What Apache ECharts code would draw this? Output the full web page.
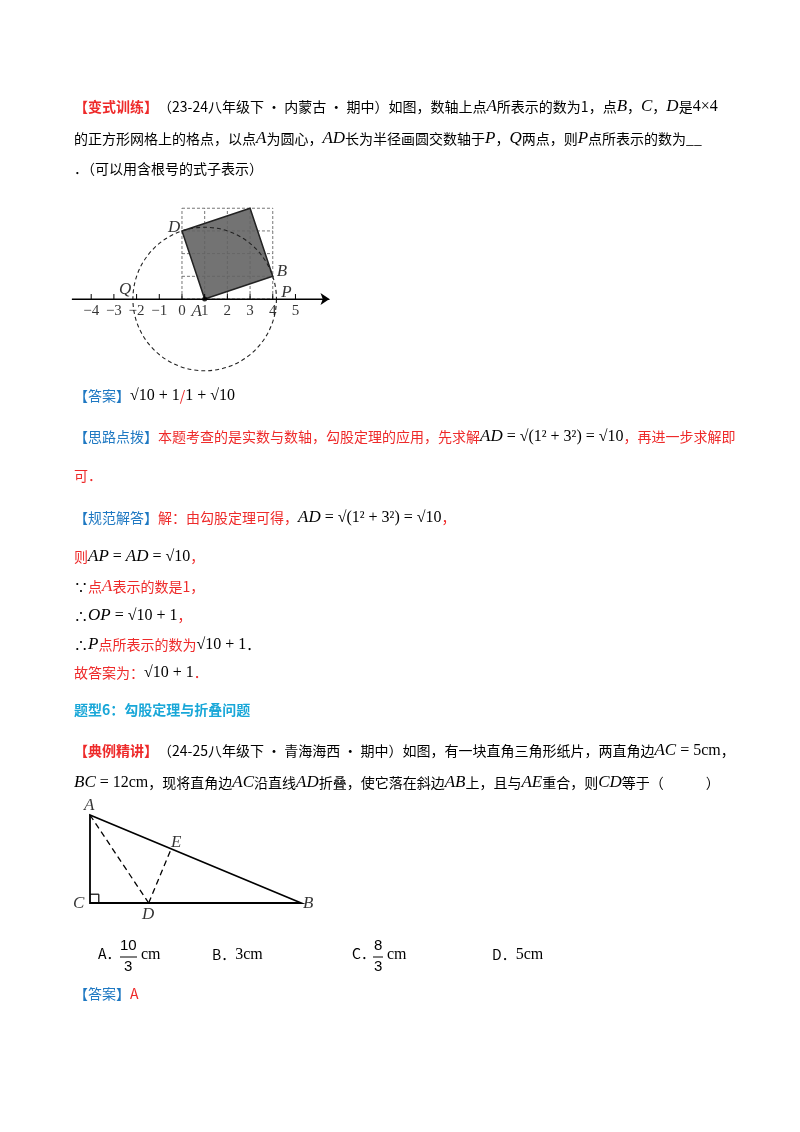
<!DOCTYPE html>
<html>
<head>
<meta charset="utf-8">
<script src="https://cdn.jsdelivr.net/npm/echarts@6/dist/echarts.min.js"></script>
<style>
html,body{margin:0;padding:0;background:#fff}
#page{width:800px;height:1132px}
</style>
</head>
<body>
<div id="page"></div>
<script>
// figure 1: number line, 4x4 grid, square ABCD, circle about A
var tickValues = [-4, -3, -2, -1, 0, 1, 2, 3, 4, 5];
var tickLabels = ['−4', '−3', '−2', '−1', '0', '1', '2', '3', '4', '5'];
var gridLines = [[0,0,4,0],[0,1,4,1],[0,2,4,2],[0,3,4,3],[0,4,4,4],
                 [0,0,0,4],[1,0,1,4],[2,0,2,4],[3,0,3,4],[4,0,4,4]];
var squarePts = [[1,0],[4,1],[3,4],[0,3]];
var circleA = [1, 0, 3.1623];
var fig1Labels = [['D',-0.35,3.13],['C',3.13,4.36],['B',4.4,1.23],['P',4.6,0.3],['Q',-2.5,0.4],['A',0.65,-0.55]];

// figure 2: right triangle, fold along AD
var triPts = [[0,5],[0,0],[12,0]];
var ptD = [3.333, 0];
var ptE = [4.615, 3.077];
var fig2Labels = [['A',-0.05,5.55],['E',4.9,3.45],['C',-0.65,-0.05],['D',3.3,-0.65],['B',12.4,-0.05]];

var RED = '#ee2a2a', BLUE = '#1e78c2', TEAL = '#19a7d8', INK = '#000';
var FONT = '"Noto Sans CJK SC", sans-serif';
var SERIF = '"Liberation Serif", serif';
var myChart = echarts.init(document.getElementById('page'), null, {renderer: 'canvas'});

function line(y, x, rich, text) {
    return {type: 'text', left: x, top: y - 10, style: {text: text, rich: rich, font: '14px ' + FONT, fill: INK}};
}
var rich = {
    r: {fill: RED, fontSize: 14, fontFamily: FONT},
    rb: {fill: RED, fontSize: 14, fontWeight: 'bold', fontFamily: FONT},
    b: {fill: BLUE, fontSize: 14, fontFamily: FONT},
    k: {fill: INK, fontSize: 14, fontFamily: FONT},
    i: {fill: INK, fontSize: 17, fontStyle: 'italic', fontFamily: SERIF},
    ir: {fill: RED, fontSize: 17, fontStyle: 'italic', fontFamily: SERIF},
    m: {fill: INK, fontSize: 16, fontFamily: SERIF},
    t: {fill: TEAL, fontSize: 14, fontWeight: 'bold', fontFamily: FONT}
};
var texts = [
    line(108, 74, rich, '{rb|【变式训练】}{k|（23-24八年级下 • 内蒙古 • 期中）如图，数轴上点}{i|A}{k|所表示的数为1，点}{i|B}{k|，}{i|C}{k|，}{i|D}{k|是}{m|4×4}'),
    line(140, 74, rich, '{k|的正方形网格上的格点，以点}{i|A}{k|为圆心，}{i|AD}{k|长为半径画圆交数轴于}{i|P}{k|，}{i|Q}{k|两点，则}{i|P}{k|点所表示的数为__}'),
    line(172, 74, rich, '{k|．（可以用含根号的式子表示）}'),
    line(398, 74, rich, '{b|【答案】}{m|√10 + 1}{r|/}{m|1 + √10}'),
    line(438, 74, rich, '{b|【思路点拨】}{r|本题考查的是实数与数轴，勾股定理的应用，先求解}{i|AD}{m| = √(1² + 3²) = √10}{r|，再进一步求解即}'),
    line(479, 74, rich, '{r|可．}'),
    line(519, 74, rich, '{b|【规范解答】}{r|解：由勾股定理可得，}{i|AD}{m| = √(1² + 3²) = √10}{r|，}'),
    line(558, 74, rich, '{r|则}{i|AP}{m| = }{i|AD}{m| = √10}{r|，}'),
    line(588, 74, rich, '{k|∵}{r|点}{ir|A}{r|表示的数是1，}'),
    line(617, 74, rich, '{k|∴}{i|OP}{m| = √10 + 1}{r|，}'),
    line(646, 74, rich, '{k|∴}{i|P}{r|点所表示的数为}{m|√10 + 1}{k|．}'),
    line(675, 74, rich, '{r|故答案为：}{m|√10 + 1}{r|．}'),
    line(713, 74, rich, '{t|题型6：勾股定理与折叠问题}'),
    line(752, 74, rich, '{rb|【典例精讲】}{k|（24-25八年级下 • 青海海西 • 期中）如图，有一块直角三角形纸片，两直角边}{i|AC}{m| = 5cm}{k|，}'),
    line(784, 74, rich, '{i|BC}{m| = 12cm}{k|，现将直角边}{i|AC}{k|沿直线}{i|AD}{k|折叠，使它落在斜边}{i|AB}{k|上，且与}{i|AE}{k|重合，则}{i|CD}{k|等于（　　　）}'),
    line(957, 98, rich, '{k|A．}'),
    {type: 'text', left: 120, top: 938, style: {text: '10', font: '15px "Liberation Sans"', fill: INK}},
    {type: 'line', shape: {x1: 120, y1: 957, x2: 137, y2: 957}, style: {stroke: INK, lineWidth: 1}},
    {type: 'text', left: 124, top: 959, style: {text: '3', font: '15px "Liberation Sans"', fill: INK}},
    line(957, 141, rich, '{m|cm}'),
    line(957, 212, rich, '{k|B．}{m|3cm}'),
    line(957, 352, rich, '{k|C．}'),
    {type: 'text', left: 374, top: 938, style: {text: '8', font: '15px "Liberation Sans"', fill: INK}},
    {type: 'line', shape: {x1: 373, y1: 957, x2: 383, y2: 957}, style: {stroke: INK, lineWidth: 1}},
    {type: 'text', left: 374, top: 959, style: {text: '3', font: '15px "Liberation Sans"', fill: INK}},
    line(957, 387, rich, '{m|cm}'),
    line(957, 492, rich, '{k|D．}{m|5cm}'),
    line(997, 74, rich, '{b|【答案】}{r|A}')
];

function segRender(dash, width, color) {
    return function (params, api) {
        var p1 = api.coord([api.value(0), api.value(1)]);
        var p2 = api.coord([api.value(2), api.value(3)]);
        return {type: 'line', shape: {x1: p1[0], y1: p1[1], x2: p2[0], y2: p2[1]},
                style: {stroke: color || INK, lineWidth: width, lineDash: dash}};
    };
}
function labelSeries(idx, pts) {
    return {type: 'scatter', xAxisIndex: idx, yAxisIndex: idx, symbolSize: 0, silent: true,
        data: pts.map(function (p) { return {value: [p[1], p[2]], name: p[0]}; }),
        label: {show: true, position: 'inside', formatter: '{b}', fontSize: 17, fontStyle: 'italic',
                fontFamily: SERIF, color: INK, textBorderWidth: 0}};
}

var option = {
    animation: false,
    graphic: texts,
    grid: [
        {left: 68.5, top: 203.7, width: 261, height: 170.2},
        {left: 72.4, top: 797.4, width: 246.4, height: 123.2}
    ],
    xAxis: [
        {type: 'value', gridIndex: 0, min: -5, max: 6.5, show: false},
        {type: 'value', gridIndex: 1, min: -1, max: 13, show: false}
    ],
    yAxis: [
        {type: 'value', gridIndex: 0, min: -3.3, max: 4.2, show: false},
        {type: 'value', gridIndex: 1, min: -1, max: 6, show: false}
    ],
    series: [
        {type: 'custom', xAxisIndex: 0, yAxisIndex: 0, data: gridLines, renderItem: segRender([3, 2], 0.9, '#666')},
        {type: 'custom', xAxisIndex: 0, yAxisIndex: 0, data: [0], renderItem: function (params, api) {
            return {type: 'polygon', shape: {points: squarePts.map(function (p) { return api.coord(p); })},
                    style: {fill: 'rgba(100,100,100,0.9)', stroke: '#222', lineWidth: 1.5}};
        }},
        {type: 'custom', xAxisIndex: 0, yAxisIndex: 0, data: [circleA], renderItem: function (params, api) {
            var c = api.coord([api.value(0), api.value(1)]);
            var r = api.size([api.value(2), 0])[0];
            return {type: 'circle', shape: {cx: c[0], cy: c[1], r: r},
                    style: {fill: 'none', stroke: '#222', lineWidth: 1.1, lineDash: [4, 3]}};
        }},
        {type: 'line', xAxisIndex: 0, yAxisIndex: 0, data: [[-4.85, 0], [6.4, 0]], symbol: 'none',
         lineStyle: {color: INK, width: 1.2},
         markLine: {silent: true, symbol: ['none', 'arrow'], symbolSize: 9, label: {show: false},
                    lineStyle: {color: INK, width: 1.2, type: 'solid'},
                    data: [[{coord: [-4.85, 0]}, {coord: [6.5, 0]}]]}},
        {type: 'custom', xAxisIndex: 0, yAxisIndex: 0, data: tickValues.map(function (v) { return [v, 0, v, 0.22]; }),
         renderItem: segRender(null, 1)},
        {type: 'scatter', xAxisIndex: 0, yAxisIndex: 0, symbolSize: 0, silent: true,
         data: tickValues.map(function (v, i) { return {value: [v, -0.55], name: tickLabels[i]}; }),
         label: {show: true, position: 'inside', formatter: '{b}', fontSize: 15,
                 fontFamily: SERIF, color: INK, textBorderWidth: 0}},
        {type: 'scatter', xAxisIndex: 0, yAxisIndex: 0, symbolSize: 5, itemStyle: {color: INK}, data: [[1, 0]]},
        labelSeries(0, fig1Labels),

        {type: 'custom', xAxisIndex: 1, yAxisIndex: 1, data: [0], renderItem: function (params, api) {
            return {type: 'polygon', shape: {points: triPts.map(function (p) { return api.coord(p); })},
                    style: {fill: 'none', stroke: INK, lineWidth: 1.8}};
        }},
        {type: 'custom', xAxisIndex: 1, yAxisIndex: 1, data: [[0, 0.5, 0.5, 0.5], [0.5, 0.5, 0.5, 0]],
         renderItem: segRender(null, 1.2)},
        {type: 'custom', xAxisIndex: 1, yAxisIndex: 1,
         data: [[triPts[0][0], triPts[0][1], ptD[0], ptD[1]], [ptD[0], ptD[1], ptE[0], ptE[1]]],
         renderItem: segRender([6, 4], 1.3)},
        labelSeries(1, fig2Labels)
    ]
};
myChart.setOption(option);
</script>
</body>
</html>
